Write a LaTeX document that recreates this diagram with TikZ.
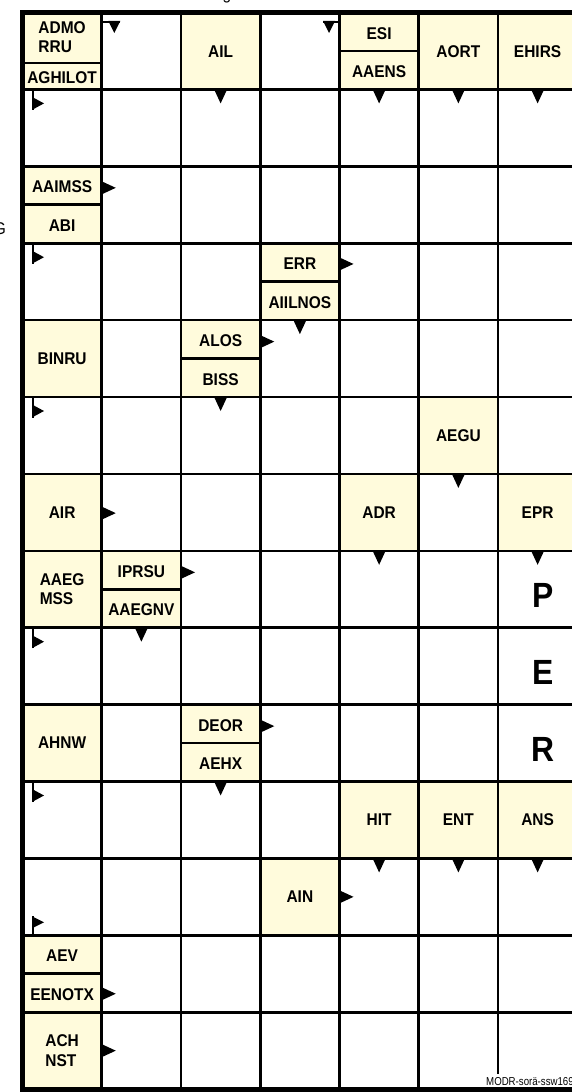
\documentclass[tikz,border=0pt]{standalone}
\usepackage{fontspec}
\setmainfont{Liberation Sans}[FakeStretch=0.91]
\newfontfamily\tagfont{Liberation Sans}[FakeStretch=0.84]
\usepackage{tikz}
\definecolor{cluebg}{HTML}{FFFBDC}

\begin{document}
\begin{tikzpicture}[
    x=79.25pt,
    y=-76.9pt,
    clue/.style={font=\fontsize{17}{19.5}\selectfont\bfseries,align=left,inner sep=0pt},
    bigletter/.style={font=\fontsize{35}{38}\selectfont\bfseries,inner sep=0pt},
    wall/.style={line width=2.6pt},
]
    \useasboundingbox (-22.5pt,12.5pt) rectangle (549.5pt,-1079.5pt);
    \foreach \c/\r in {0/0,2/0,4/0,5/0,6/0,0/2,3/3,0/4,2/4,5/5,0/6,4/6,6/6,0/7,1/7,0/9,2/9,4/10,5/10,6/10,3/11,0/12,0/13}
        \fill[cluebg] (\c,\r) rectangle ++(1,1);
    \foreach \c in {1,...,6} \draw[wall] (\c,0) -- (\c,14);
    \foreach \r in {1,...,13} \draw[wall] (0,\r) -- (7,\r);
    \draw[wall] (0,0.657) -- (1,0.657);
    \draw[wall] (4,0.5) -- (5,0.5);
    \draw[wall] (0,2.5) -- (1,2.5);
    \draw[wall] (3,3.5) -- (4,3.5);
    \draw[wall] (2,4.5) -- (3,4.5);
    \draw[wall] (1,7.5) -- (2,7.5);
    \draw[wall] (2,9.5) -- (3,9.5);
    \draw[wall] (0,12.5) -- (1,12.5);
    % arrows
    \foreach \c/\r in {2/1,4/1,5/1,6/1,3/4,2/5,5/6,4/7,6/7,1/8,2/10,4/11,5/11,6/11}
        \fill (\c+0.5,\r) ++(-6.5pt,0pt) -- ++(13pt,0pt) -- ++(-6.5pt,-14pt) -- cycle;
    \foreach \c/\r in {1/2.28,4/3.27,3/4.28,1/6.51,2/7.28,3/9.28,4/11.5,1/12.76,1/13.5}
        \fill (\c,\r) ++(0pt,6.5pt) -- ++(14pt,-6.5pt) -- ++(-14pt,-6.5pt) -- cycle;
    \foreach \r in {1,3,5,8,10} {
        \fill (0,\r) ++(9.5pt,0pt) rectangle ++(2pt,-20.5pt);
        \fill (0,\r) ++(9.5pt,-7.5pt) -- ++(12pt,-6.5pt) -- ++(-12pt,-6.5pt) -- cycle;
    }
    \fill (0,12) ++(9.5pt,0pt) rectangle ++(2pt,19pt);
    \fill (0,12) ++(9.5pt,7pt) -- ++(12pt,6pt) -- ++(-12pt,6pt) -- cycle;
    \fill (1,0) ++(0pt,-8.5pt) rectangle ++(18.5pt,-2pt);
    \fill (1,0) ++(6.5pt,-8.5pt) -- ++(12pt,0pt) -- ++(-6pt,-12pt) -- cycle;
    \fill (4,0) ++(0pt,-8.5pt) rectangle ++(-17pt,-2pt);
    \fill (4,0) ++(-4.5pt,-8.5pt) -- ++(-12pt,0pt) -- ++(6pt,-12pt) -- cycle;
    % clues
    \node (admo) at (0.5,0.32) [clue] {ADMO\\RRU};
    \node (aghilot) at (0.5,0.85) [clue] {AGHILOT};
    \node (ail) at (2.5,0.51) [clue] {AIL};
    \node (esi) at (4.5,0.27) [clue] {ESI};
    \node (aaens) at (4.5,0.77) [clue] {AAENS};
    \node (aort) at (5.5,0.51) [clue] {AORT};
    \node (ehirs) at (6.5,0.51) [clue] {EHIRS};
    \node (aaimss) at (0.5,2.27) [clue] {AAIMSS};
    \node (abi) at (0.5,2.77) [clue] {ABI};
    \node (err) at (3.5,3.27) [clue] {ERR};
    \node (aiilnos) at (3.5,3.77) [clue] {AIILNOS};
    \node (binru) at (0.5,4.5) [clue] {BINRU};
    \node (alos) at (2.5,4.27) [clue] {ALOS};
    \node (biss) at (2.5,4.77) [clue] {BISS};
    \node (aegu) at (5.5,5.5) [clue] {AEGU};
    \node (air) at (0.5,6.5) [clue] {AIR};
    \node (adr) at (4.5,6.5) [clue] {ADR};
    \node (epr) at (6.5,6.5) [clue] {EPR};
    \node (aaeg) at (0.5,7.5) [clue] {AAEG\\MSS};
    \node (iprsu) at (1.5,7.27) [clue] {IPRSU};
    \node (aaegnv) at (1.5,7.77) [clue] {AAEGNV};
    \node (ahnw) at (0.5,9.5) [clue] {AHNW};
    \node (deor) at (2.5,9.27) [clue] {DEOR};
    \node (aehx) at (2.5,9.77) [clue] {AEHX};
    \node (hit) at (4.5,10.5) [clue] {HIT};
    \node (ent) at (5.5,10.5) [clue] {ENT};
    \node (ans) at (6.5,10.5) [clue] {ANS};
    \node (ain) at (3.5,11.5) [clue] {AIN};
    \node (aev) at (0.5,12.27) [clue] {AEV};
    \node (eenotx) at (0.5,12.77) [clue] {EENOTX};
    \node (achnst) at (0.5,13.5) [clue] {ACH\\NST};
    % letters
    \node (p) at (6.57,7.58) [bigletter] {P};
    \node (e) at (6.57,8.58) [bigletter] {E};
    \node (r) at (6.57,9.58) [bigletter] {R};
    \node (gleft) at (-0.208,2.815) [anchor=east,inner sep=0pt,font=\fontsize{17}{19}\selectfont] {G};
    \node (gtop) at (2.58,-0.172) [anchor=base,inner sep=0pt,font=\fontsize{17}{19}\selectfont] {g};
    \node (tag) at (5.836,13.947) [anchor=base west,fill=white,inner xsep=1pt,inner ysep=3.5pt,font=\tagfont\fontsize{11.5}{12}\selectfont] {MODR-sorä-ssw169};
    \draw[line width=5pt] (0,0) rectangle (7,14);
\end{tikzpicture}
\end{document}
